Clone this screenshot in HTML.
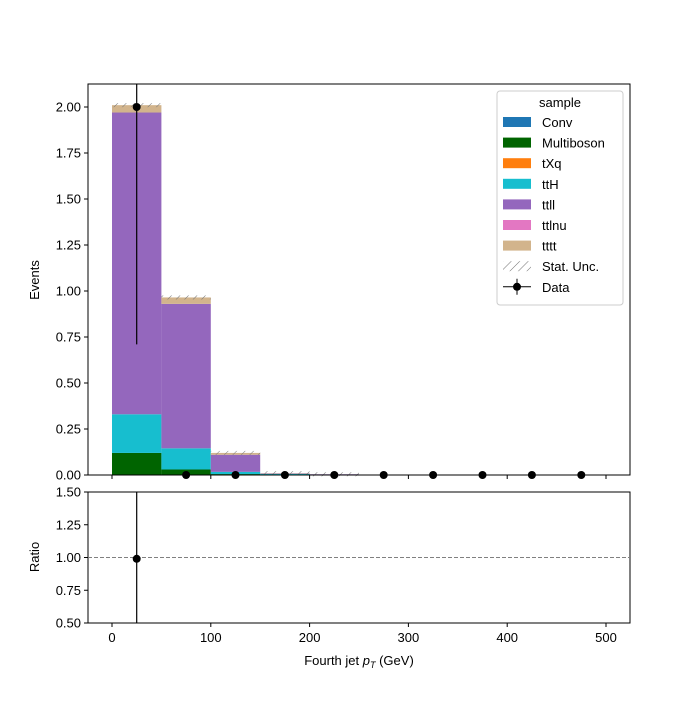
<!DOCTYPE html>
<html><head><meta charset="utf-8"><style>body{margin:0;background:#fff}svg{font-family:"Liberation Sans",sans-serif}</style></head>
<body>
<svg id="c" width="700" height="700" viewBox="0 0 700 700">
<defs><pattern id="hatch" patternUnits="userSpaceOnUse" width="6" height="6" patternTransform="rotate(45)"><line x1="0" y1="0" x2="0" y2="6" stroke="#777" stroke-width="1"/></pattern></defs>
</svg>
<script>
const binEdges=[0,50,100,150,200,250,300,350,400,450,500];
const samples=["Conv","Multiboson","tXq","ttH","ttll","ttlnu","tttt"];
const colors=["#1f77b4","#006400","#ff7f0e","#17becf","#9467bd","#e377c2","#d2b48c"];
const conv=[0,0,0,0,0,0,0,0,0,0];
const multiboson=[0.12,0.03,0.005,0.002,0,0,0,0,0,0];
const txq=[0,0,0,0,0,0,0,0,0,0];
const tth=[0.21,0.115,0.012,0.004,0,0,0,0,0,0];
const ttll=[1.64,0.785,0.093,0.002,0.004,0,0,0,0,0];
const ttlnu=[0,0,0,0,0,0,0,0,0,0];
const tttt=[0.04,0.035,0.01,0.002,0,0,0,0,0,0];
const series=[conv,multiboson,txq,tth,ttll,ttlnu,tttt];
const dataVals=[2,0,0,0,0,0,0,0,0,0];
const dataErrLo=[1.29,0,0,0,0,0,0,0,0,0];
const ratioVals=[0.99];
const yTicks=[0,0.25,0.5,0.75,1.0,1.25,1.5,1.75,2.0];
const rTicks=[0.5,0.75,1.0,1.25,1.5];
const xTicks=[0,100,200,300,400,500];
const NS="http://www.w3.org/2000/svg",svg=document.getElementById('c');
const X=v=>112+(v)*0.988, Y=v=>475-v*184, R=v=>623-(v-0.5)*131;
function el(t,a,p){const e=document.createElementNS(NS,t);for(const k in a)e.setAttribute(k,a[k]);(p||svg).appendChild(e);return e;}
function txt(x,y,s,a){const e=el('text',Object.assign({x:x,y:y,'font-size':13,fill:'#000'},a||{}));e.textContent=s;return e;}
// bars
for(let b=0;b<10;b++){let cum=0;
 series.forEach((s,i)=>{const v=s[b];if(v>0){const r=el('rect',{x:X(binEdges[b]),y:Y(cum+v),width:X(binEdges[b+1])-X(binEdges[b]),height:Y(cum)-Y(cum+v),fill:colors[i]});
 }cum+=v;});
 if(cum>0){const h=el('rect',{x:X(binEdges[b]),y:Y(cum)-2,width:X(binEdges[b+1])-X(binEdges[b]),height:4,fill:'url(#hatch)'});
 }
}
// data
for(let b=0;b<10;b++){const cx=X((binEdges[b]+binEdges[b+1])/2);
 if(dataErrLo[b]>0){const l=el('line',{x1:cx,x2:cx,y1:Y(dataVals[b]-dataErrLo[b]),y2:84,stroke:'#000','stroke-width':1.2});}
 const c=el('circle',{cx:cx,cy:Y(dataVals[b]),r:4,fill:'#000'});}
// main axes
const f=el('rect',{x:88,y:84,width:542,height:391,fill:'none',stroke:'#000','stroke-width':1});
yTicks.forEach(t=>{el('line',{x1:84,x2:88,y1:Y(t),y2:Y(t),stroke:'#000'});const e=txt(81,Y(t)+4.5,t.toFixed(2),{'text-anchor':'end'});});
xTicks.forEach(t=>{el('line',{x1:X(t),x2:X(t),y1:475,y2:479,stroke:'#000'});el('line',{x1:X(t),x2:X(t),y1:623,y2:627,stroke:'#000'});
 const e=txt(X(t),642,String(t),{'text-anchor':'middle'});});
let yt=txt(0,0,'Events',{transform:'translate(39,280) rotate(-90)','text-anchor':'middle'});
// ratio
const rf=el('rect',{x:88,y:492,width:542,height:131,fill:'none',stroke:'#000'});
el('line',{x1:88,x2:630,y1:R(1),y2:R(1),stroke:'#808080','stroke-dasharray':'4,2'});
rTicks.forEach(t=>{el('line',{x1:84,x2:88,y1:R(t),y2:R(t),stroke:'#000'});const e=txt(81,R(t)+4.5,t.toFixed(2),{'text-anchor':'end'});});
ratioVals.forEach((v,i)=>{const cx=X((binEdges[i]+binEdges[i+1])/2);el('line',{x1:cx,x2:cx,y1:492,y2:623,stroke:'#000','stroke-width':1.2});
 const c=el('circle',{cx:cx,cy:R(v),r:4,fill:'#000'});});
let rt=txt(0,0,'Ratio',{transform:'translate(39,557) rotate(-90)','text-anchor':'middle'});
let xt=el('text',{x:359,y:665,'font-size':13,'text-anchor':'middle'});xt.innerHTML='Fourth jet  <tspan font-style="italic">p</tspan><tspan font-style="italic" font-size="9" dy="3">T</tspan><tspan dy="-3"> (GeV)</tspan>';

// legend
const g=el('g',{});
el('rect',{x:497,y:91,width:126,height:214,fill:'#fff',stroke:'#ccc',rx:3},g);
txt(560,107,'sample',{'text-anchor':'middle'},g);
samples.forEach((s,i)=>{const y=117+i*20.6;el('rect',{x:503,y:y,width:28,height:10,fill:colors[i]},g);const e=txt(542,y+10,s,{},g);});
let y7=117+7*20.6;el('rect',{x:503,y:y7,width:28,height:10,fill:'url(#hatch)'},g);txt(542,y7+10,'Stat. Unc.',{},g);
let y8=117+8*20.6;el('line',{x1:503,x2:531,y1:y8+5,y2:y8+5,stroke:'#000'},g);el('line',{x1:517,x2:517,y1:y8-3,y2:y8+13,stroke:'#000'},g);el('circle',{cx:517,cy:y8+5,r:4},g);txt(542,y8+10,'Data',{},g);
</script>
</body></html>
